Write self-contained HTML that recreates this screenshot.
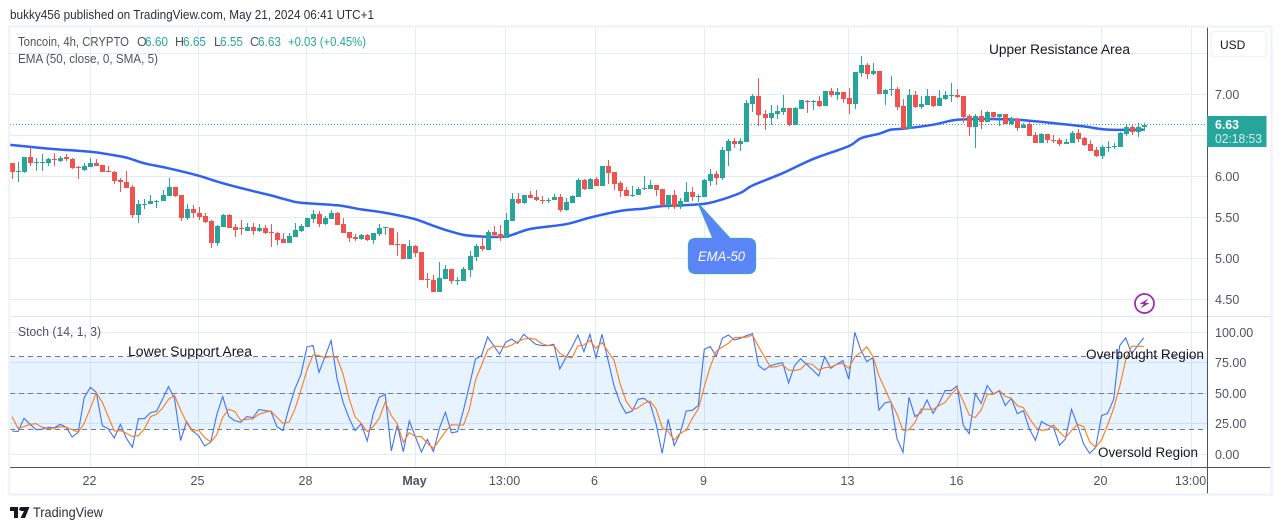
<!DOCTYPE html>
<html lang="en">
<head>
<meta charset="utf-8">
<title>Toncoin 4h chart</title>
<style>
html,body{margin:0;padding:0;background:#fff;width:1281px;height:530px;overflow:hidden}
svg{display:block;font-family:"Liberation Sans",sans-serif}
</style>
</head>
<body>
<svg id="chart" width="1281" height="530" viewBox="0 0 1281 530" xmlns="http://www.w3.org/2000/svg">
  <rect x="0" y="0" width="1281" height="530" fill="#ffffff"/>
  <g id="grid"></g>
  <g id="osc-band"></g>
  <g id="ema"></g>
  <g id="candles"></g>
  <g id="stoch"></g>
  <g id="axes"></g>

  <rect x="9" y="26.5" width="1262.5" height="468" fill="none" stroke="#f0f3fa" stroke-width="2.4"/>

  <text x="10" y="19" font-size="12.5" fill="#2a2e39" textLength="364" lengthAdjust="spacingAndGlyphs">bukky456 published on TradingView.com, May 21, 2024 06:41 UTC+1</text>

  <text x="18" y="46" font-size="12.5" fill="#50535e" textLength="111" lengthAdjust="spacingAndGlyphs">Toncoin, 4h, CRYPTO</text>
  <text x="137" y="46" font-size="12.5" fill="#50535e">O</text>
  <text x="145" y="46" font-size="12.5" fill="#26a69a" textLength="23" lengthAdjust="spacingAndGlyphs">6.60</text>
  <text x="175" y="46" font-size="12.5" fill="#50535e">H</text>
  <text x="183" y="46" font-size="12.5" fill="#26a69a" textLength="23" lengthAdjust="spacingAndGlyphs">6.65</text>
  <text x="214" y="46" font-size="12.5" fill="#50535e">L</text>
  <text x="220" y="46" font-size="12.5" fill="#26a69a" textLength="23" lengthAdjust="spacingAndGlyphs">6.55</text>
  <text x="250" y="46" font-size="12.5" fill="#50535e">C</text>
  <text x="258" y="46" font-size="12.5" fill="#26a69a" textLength="23" lengthAdjust="spacingAndGlyphs">6.63</text>
  <text x="288" y="46" font-size="12.5" fill="#26a69a" textLength="78" lengthAdjust="spacingAndGlyphs">+0.03 (+0.45%)</text>
  <text x="18" y="63" font-size="12.5" fill="#50535e" textLength="140" lengthAdjust="spacingAndGlyphs">EMA (50, close, 0, SMA, 5)</text>
  <text x="18" y="336" font-size="12.5" fill="#50535e" textLength="83" lengthAdjust="spacingAndGlyphs">Stoch (14, 1, 3)</text>

  <text x="989" y="54" font-size="13.5" fill="#131722" textLength="141" lengthAdjust="spacingAndGlyphs">Upper Resistance Area</text>
  <text x="128" y="356" font-size="13.5" fill="#131722" textLength="124" lengthAdjust="spacingAndGlyphs">Lower Support Area</text>
  <text x="1086" y="359" font-size="13.5" fill="#131722" textLength="118" lengthAdjust="spacingAndGlyphs">Overbought Region</text>
  <text x="1098" y="457" font-size="13.5" fill="#131722" textLength="100" lengthAdjust="spacingAndGlyphs">Oversold Region</text>

  <g>
    <path d="M698.5 204 L730 238.5 L748 238.5 Q755.5 238.5 755.5 246 L755.5 266 Q755.5 273.5 748 273.5 L696 273.5 Q688.5 273.5 688.5 266 L688.5 246 Q688.5 238.5 696 238.5 L713 238.5 Z" fill="#5b85f6" stroke="#3f9ad8" stroke-width="1.3" stroke-linejoin="round"/>
    <text x="698" y="261" font-size="14" font-style="italic" fill="#ffffff" textLength="47" lengthAdjust="spacingAndGlyphs">EMA-50</text>
  </g>

  <g>
    <rect x="1211.5" y="31.5" width="55" height="25" rx="3" fill="#ffffff" stroke="#f0f3fa" stroke-width="1.5"/>
    <text x="1220" y="49" font-size="12" fill="#131722">USD</text>
  </g>

  <g>
    <rect x="1207" y="116" width="59.5" height="31" fill="#26a69a"/>
    <text x="1215" y="129" font-size="12.5" font-weight="bold" fill="#ffffff" textLength="24" lengthAdjust="spacingAndGlyphs">6.63</text>
    <text x="1215" y="143" font-size="12.5" fill="#d4eeeb" textLength="47" lengthAdjust="spacingAndGlyphs">02:18:53</text>
  </g>

  <g>
    <circle cx="1144.5" cy="303.5" r="9.5" fill="#ffffff" stroke="#9c27b0" stroke-width="1.7"/>
    <path d="M1148.5 298.5 L1139.5 304 L1143.8 304 L1140.5 308.5 L1149.5 303 L1145.2 303 Z" fill="#9c27b0"/>
  </g>

  <g>
    <path d="M10 507 H18 V518 H14 V511 H10 Z M21 507 H29.5 L25 518 H20.5 L24 511 H21 Z" fill="#131722"/>
    <circle cx="21" cy="509" r="1.8" fill="#131722"/>
    <text x="33" y="517" font-size="13.5" fill="#2a2e39" textLength="70" lengthAdjust="spacingAndGlyphs">TradingView</text>
  </g>
</svg>

<script>
// OHLC values, one per 4h candle
const opens = [
6.17,6.06,6.06,6.24,6.17,6.17,6.16,6.21,6.19,6.24,6.21,6.11,6.08,6.12,6.16,6.14,6.07,6.06,5.96,5.93,
5.87,5.53,5.66,5.67,5.69,5.70,5.76,5.87,5.78,5.50,5.61,5.56,5.52,5.46,5.19,5.39,5.53,5.39,5.37,5.34,
5.39,5.34,5.37,5.33,5.31,5.24,5.19,5.26,5.34,5.39,5.48,5.54,5.42,5.48,5.56,5.42,5.33,5.26,5.24,5.29,
5.23,5.30,5.37,5.37,5.18,5.18,5.00,5.15,5.08,4.75,
4.74,4.60,4.75,4.875,4.73,4.73,4.86,5.02,5.15,5.11,5.33,5.30,5.25,5.46,5.73,5.68,5.78,5.75,5.72,5.71,
5.71,5.75,5.59,5.68,5.75,5.96,5.85,5.97,5.885,6.13,6.05,5.92,5.84,5.77,5.77,5.85,5.85,5.90,5.85,5.64,
5.78,5.63,5.69,5.81,5.75,5.75,5.95,6.03,5.98,6.31,6.43,6.40,6.42,6.88,6.98,6.76,6.71,6.76,6.78,6.83,
6.63,6.82,6.92,6.91,6.92,6.86,7.04,6.99,7.03,6.95,6.88,
7.26,7.36,7.25,7.28,7.00,7.06,7.065,6.86,6.58,6.99,6.85,6.87,6.98,6.86,6.94,6.985,6.99,6.98,6.74,6.60,
6.74,6.66,6.785,6.72,6.76,6.64,6.70,6.59,6.64,6.505,6.41,6.52,6.45,6.445,6.395,6.41,6.53,6.47,6.395,6.32,
6.25,6.35,6.36,6.36,6.52,6.60,6.54,6.60];
const highs = [
6.17,6.18,6.24,6.36,6.23,6.27,6.23,6.29,6.25,6.27,6.22,6.13,6.16,6.23,6.21,6.14,6.13,6.07,5.98,6.07,
5.90,5.71,5.73,5.77,5.71,5.84,5.98,5.87,5.78,5.67,5.65,5.63,5.55,5.47,5.41,5.54,5.54,5.42,5.47,5.43,
5.43,5.42,5.41,5.42,5.33,5.31,5.31,5.43,5.42,5.50,5.59,5.58,5.52,5.59,5.57,5.50,5.33,5.30,5.30,5.30,
5.31,5.42,5.39,5.37,5.33,5.18,5.23,5.17,5.08,4.83,
4.80,4.96,4.92,4.875,4.78,4.90,5.09,5.18,5.26,5.35,5.40,5.41,5.56,5.80,5.80,5.78,5.82,5.84,5.76,5.74,
5.79,5.79,5.74,5.78,5.98,5.97,5.98,5.99,6.13,6.20,6.05,5.95,5.87,5.88,5.87,6.01,5.96,5.90,5.85,5.78,
5.84,5.74,5.93,5.87,5.79,5.97,6.09,6.07,6.36,6.46,6.47,6.47,6.93,7.00,7.20,6.81,6.87,6.87,6.99,6.83,
6.85,6.93,6.93,6.93,6.98,7.04,7.08,7.08,7.03,7.08,7.27,
7.47,7.38,7.38,7.28,7.06,7.22,7.09,6.94,7.065,7.04,6.98,7.065,6.98,7.05,7.04,7.14,7.065,6.98,6.76,6.76,
6.81,6.80,6.785,6.76,6.76,6.72,6.71,6.65,6.66,6.54,6.53,6.52,6.505,6.47,6.46,6.555,6.58,6.48,6.445,6.36,
6.385,6.43,6.41,6.54,6.63,6.63,6.65,6.65];
const lows = [
5.97,5.93,6.04,6.13,6.07,6.07,6.13,6.13,6.18,6.19,6.09,5.97,6.07,6.12,6.13,6.05,6.06,5.91,5.81,5.86,
5.50,5.44,5.61,5.67,5.62,5.70,5.76,5.75,5.46,5.47,5.50,5.47,5.44,5.13,5.15,5.39,5.37,5.26,5.29,5.34,
5.29,5.33,5.30,5.14,5.17,5.19,5.19,5.26,5.33,5.39,5.44,5.39,5.41,5.48,5.41,5.31,5.20,5.22,5.23,5.22,
5.18,5.28,5.29,5.17,5.03,5.00,5.00,5.02,4.745,4.64,
4.60,4.60,4.75,4.69,4.68,4.73,4.78,4.97,5.09,5.10,5.25,5.22,5.25,5.46,5.67,5.67,5.74,5.70,5.67,5.68,
5.71,5.57,5.58,5.68,5.75,5.84,5.85,5.885,5.885,5.91,5.84,5.75,5.76,5.75,5.77,5.84,5.85,5.76,5.64,5.60,
5.60,5.60,5.69,5.70,5.69,5.75,5.885,5.90,5.96,6.13,6.35,6.31,6.42,6.79,6.61,6.57,6.63,6.70,6.75,6.61,
6.63,6.82,6.77,6.81,6.85,6.86,6.97,6.93,6.89,6.76,6.82,
7.21,7.19,7.24,7.00,6.87,6.98,6.81,6.58,6.58,6.83,6.82,6.87,6.85,6.86,6.935,6.91,6.955,6.65,6.49,6.35,
6.58,6.66,6.69,6.615,6.64,6.63,6.55,6.59,6.49,6.41,6.41,6.41,6.41,6.37,6.395,6.41,6.42,6.37,6.31,6.24,
6.21,6.30,6.335,6.36,6.49,6.505,6.48,6.55];
const closes = [
6.06,6.07,6.24,6.16,6.18,6.18,6.21,6.20,6.23,6.21,6.10,6.10,6.13,6.16,6.13,6.06,6.06,5.95,5.93,5.86,
5.53,5.67,5.67,5.70,5.70,5.78,5.87,5.76,5.50,5.61,5.55,5.51,5.45,5.19,5.40,5.53,5.37,5.35,5.36,5.39,
5.34,5.37,5.31,5.32,5.23,5.19,5.28,5.35,5.40,5.49,5.54,5.42,5.50,5.56,5.41,5.31,5.25,5.24,5.29,5.23,
5.31,5.37,5.38,5.17,5.17,5.00,5.15,5.07,4.745,4.735,
4.60,4.77,4.875,4.73,4.74,4.875,5.03,5.15,5.12,5.33,5.29,5.25,5.47,5.73,5.68,5.78,5.74,5.71,5.71,5.72,
5.75,5.59,5.69,5.76,5.96,5.85,5.97,5.885,6.13,6.04,5.91,5.82,5.76,5.78,5.85,5.86,5.90,5.84,5.64,5.78,
5.63,5.70,5.81,5.75,5.76,5.96,6.03,5.98,6.32,6.43,6.40,6.43,6.89,6.98,6.75,6.71,6.77,6.80,6.83,6.63,
6.83,6.93,6.91,6.92,6.86,7.04,6.99,7.03,6.94,6.88,7.27,
7.36,7.25,7.28,7.00,7.05,7.07,6.85,6.58,6.99,6.85,6.88,6.98,6.86,6.955,6.99,6.99,6.97,6.72,6.60,6.74,
6.66,6.785,6.72,6.76,6.64,6.70,6.59,6.63,6.49,6.41,6.52,6.445,6.44,6.395,6.42,6.53,6.455,6.385,6.31,6.25,
6.36,6.36,6.37,6.53,6.60,6.54,6.60,6.63];

// EMA-50: bar numbers and the values read at those bars
const emaBars = [-0.3,6,13,16,19,22,26,31,34,38,43,46,48,54,58,61,64,67,70,72,75,78,82,86,92,96,101,105,108,114,117,121,123,128,133,139,141,144,146,148,153,157,162,167,173,178,182,188];
const emaValues = [6.385,6.34,6.30,6.27,6.23,6.16,6.10,6.01,5.94,5.86,5.77,5.71,5.68,5.65,5.60,5.57,5.53,5.48,5.40,5.35,5.29,5.27,5.27,5.36,5.42,5.50,5.58,5.61,5.64,5.66,5.70,5.80,5.89,6.04,6.21,6.37,6.465,6.52,6.57,6.58,6.63,6.69,6.70,6.69,6.65,6.61,6.57,6.57];

// Stochastic %K and %D, one value per candle
const stochK = [
19.1,18.6,29.5,24.6,20.2,20.5,22.1,21.6,24.6,22.1,14.2,18,46.4,54.9,50.8,23.5,20.8,13.4,24.6,13.1,
5.7,29.2,29.2,34.2,35.2,45.1,55.5,45.9,11.2,26.8,19.1,15.3,6.8,9.8,32.2,47.3,31.1,27.6,26.2,30.9,
30,36.6,35.8,35.2,22.7,19.4,37.7,53.6,65.6,88,89.3,67.2,80,93.4,61.7,42.6,29.5,19.4,25.1,10.9,
33.1,46.7,49.2,2.7,24,2.2,27.3,14.5,1.9,12.3,
2.2,21.3,34.4,17.5,18.6,36.3,56.8,78.1,80.9,96.2,89.1,82,91.8,94.5,91,98.4,94.3,90.2,89.1,89.1,
90.2,69.9,79.2,87.7,97.8,84.2,98.4,79.2,98.4,77.3,56.3,42.3,33.6,35.5,45.1,45.9,41.8,24.9,0.8,28.7,
7.1,17.2,35.5,36.1,39.9,86.1,88.3,80.3,95.1,97.8,93.7,95.1,97.3,98.9,72.7,69.1,72.7,74,75.1,58.5,
72.7,78.4,73.8,69.1,64.2,80,70.5,73.8,76.8,61.5,100,
85.5,76,79.2,36.3,42.1,43.2,13.1,1.6,46.7,30.9,34.2,44.5,33.6,41.8,52.2,52.2,56,24,16.9,49.7,
41.8,56.3,49.5,51.9,39.9,45.9,33.3,35.8,20.8,11.5,26.8,24,22.1,7.4,12.6,36.9,24,8.5,0.8,5.5,
31.7,33.6,45.1,89.1,95.4,82.5,89.1,95.6];
const stochD = [
30.9,21.3,22.7,24.6,25.1,22.1,21.3,21.3,22.7,22.1,20.2,18,25.4,37.7,50.5,42.6,30.9,19.1,19.4,17.2,
14.5,15.3,20.8,30.9,32.8,37.7,45.1,48.4,36.3,26,18.6,19.9,13.7,10.1,15.8,30.3,36.9,35.2,27.9,28.7,
29,32.8,34.4,35.5,30.3,25.4,26.2,36.9,52.7,69.1,81.4,80.9,79.2,80.3,79.2,65.6,45.9,30.6,25.4,18.6,
22.7,29.5,42.6,31.7,24.9,9.8,17.8,14.5,14.5,9,
4.9,11.7,18.6,24.3,24,24,37.2,60.9,73.2,85.5,88.5,88.5,87.7,89.6,92.3,94.5,95.1,94.3,90.7,89.1,
89.3,82.8,80,79,88.8,89.6,93.4,86.9,91.8,84.2,77.3,58.2,43.7,36.6,38,41.8,43.7,37.2,21.9,18.6,
11.7,17.2,19.7,29.5,37.2,55.5,71.9,84.7,88,91,95.6,95.9,95.9,97.8,88.3,80,71.3,71.9,73.2,69.1,
68.6,69.7,74.6,73.5,69.1,71,71.3,73.8,74.6,70.5,80,
83.3,88,80.3,64.5,53.6,42.6,33.1,19.7,20.2,26.2,37.2,36.9,36.9,39.9,42.6,49.2,54.1,43.7,32.2,30.1,
36.3,49.2,49.2,52.5,47.5,45.9,39.9,38.3,29.5,22.4,19.7,20.2,24,18.3,13.7,19.4,24.6,22.7,10.4,5.7,
11.7,24,37.7,55.5,77.3,88.5,88.5,88.5];

// Axis ticks
const priceTicks = [7.5,7,6.5,6,5.5,5,4.5];
const priceLabelled = ["","7.00","","6.00","5.50","5.00","4.50"];
const stochTicks = [100,75,50,25,0];
const stochLabels = ["100.00","75.00","50.00","25.00","0.00"];
const stochLevels = [80,50,20];
const timeBars = [13,31,49,67,82,97,115,139,157,181,196];
const timeLabels = ["22","25","28","May","13:00","6","9","13","16","20","13:00"];
const lastPrice = 6.63;

// Axis functions
function xAt(bar){ return 12 + 6.02 * bar; }
function yPrice(p){ return 94.3 + (7 - p) * 82.2; }
function yStoch(v){ return 454.3 - v * 1.22; }

const SVGNS = "http://www.w3.org/2000/svg";
function mk(tag, parent){
  const el = document.createElementNS(SVGNS, tag);
  parent.appendChild(el);
  return el;
}
function crisp(v){ return Math.round(v - 0.5) + 0.5; }

const PLOT_L = 10, PLOT_R = 1207, PLOT_T = 27, PRICE_B = 316, OSC_B = 467;
const gridColor = "#e3ebf3";
const gridG = document.getElementById("grid");
const axesG = document.getElementById("axes");

// vertical grid + time labels
timeBars.forEach(function(b, i){
  const x = crisp(xAt(b));
  const line = mk("line", gridG);
  
  
  line.setAttribute("x1", x); line.setAttribute("x2", x);
  line.setAttribute("y1", PLOT_T); line.setAttribute("y2", OSC_B);
  line.setAttribute("stroke", gridColor);
  const t = mk("text", axesG);
  
  
  t.setAttribute("x", x - 1); t.setAttribute("y", 485);
  t.setAttribute("text-anchor", "middle");
  t.setAttribute("font-size", "12.5");
  t.setAttribute("fill", "#50535e");
  if (timeLabels[i] === "May") t.setAttribute("font-weight", "bold");
  t.textContent = timeLabels[i];
});

// price grid + labels
priceTicks.forEach(function(p, i){
  const y = crisp(yPrice(p));
  const line = mk("line", gridG);
  
  
  line.setAttribute("x1", PLOT_L); line.setAttribute("x2", PLOT_R);
  line.setAttribute("y1", y); line.setAttribute("y2", y);
  line.setAttribute("stroke", gridColor);
  if (priceLabelled[i]) {
    const t = mk("text", axesG);
    
    
    t.setAttribute("x", 1215); t.setAttribute("y", y + 4.5);
    t.setAttribute("font-size", "12.5");
    t.setAttribute("fill", "#50535e");
    t.textContent = priceLabelled[i];
  }
});

// stoch band
const band = mk("rect", document.getElementById("osc-band"));


band.setAttribute("x", PLOT_L); band.setAttribute("width", PLOT_R - PLOT_L);
band.setAttribute("y", yStoch(stochLevels[0]));
band.setAttribute("height", yStoch(stochLevels[2]) - yStoch(stochLevels[0]));
band.setAttribute("fill", "#2196f3");
band.setAttribute("fill-opacity", "0.11");

// stoch grid + labels
stochTicks.forEach(function(v, i){
  const y = crisp(yStoch(v));
  const line = mk("line", gridG);
  
  
  line.setAttribute("x1", PLOT_L); line.setAttribute("x2", PLOT_R);
  line.setAttribute("y1", y); line.setAttribute("y2", y);
  line.setAttribute("stroke", gridColor);
  const t = mk("text", axesG);
  
  
  t.setAttribute("x", 1215); t.setAttribute("y", y + 4.5);
  t.setAttribute("font-size", "12.5");
  t.setAttribute("fill", "#50535e");
  t.textContent = stochLabels[i];
});

// stoch level lines
const oscBandG = document.getElementById("osc-band");
stochLevels.forEach(function(v){
  const y = crisp(yStoch(v));
  const line = mk("line", oscBandG);
  
  
  line.setAttribute("x1", PLOT_L); line.setAttribute("x2", PLOT_R);
  line.setAttribute("y1", y); line.setAttribute("y2", y);
  line.setAttribute("stroke", "#787b86");
  line.setAttribute("stroke-dasharray", "5 4");
});

// last price dotted line
const lastLine = mk("line", gridG);


lastLine.setAttribute("x1", PLOT_L); lastLine.setAttribute("x2", PLOT_R);
lastLine.setAttribute("y1", crisp(yPrice(lastPrice))); lastLine.setAttribute("y2", crisp(yPrice(lastPrice)));
lastLine.setAttribute("stroke", "#26a69a");
lastLine.setAttribute("stroke-dasharray", "1 2");

// EMA: smooth curve through the read values
function smoothPath(pts){
  let d = "M" + pts[0][0].toFixed(1) + " " + pts[0][1].toFixed(1);
  for (let i = 0; i < pts.length - 1; i++) {
    const p0 = pts[Math.max(0, i - 1)], p1 = pts[i], p2 = pts[i + 1], p3 = pts[Math.min(pts.length - 1, i + 2)];
    const c1x = p1[0] + (p2[0] - p0[0]) / 6, c1y = p1[1] + (p2[1] - p0[1]) / 6;
    const c2x = p2[0] - (p3[0] - p1[0]) / 6, c2y = p2[1] - (p3[1] - p1[1]) / 6;
    d += " C" + c1x.toFixed(1) + " " + c1y.toFixed(1) + " " + c2x.toFixed(1) + " " + c2y.toFixed(1) + " " + p2[0].toFixed(1) + " " + p2[1].toFixed(1);
  }
  return d;
}
const emaLine = mk("path", document.getElementById("ema"));


emaLine.setAttribute("d", smoothPath(emaBars.map(function(b, i){ return [xAt(b), yPrice(emaValues[i])]; })));
emaLine.setAttribute("fill", "none");
emaLine.setAttribute("stroke", "#2f62f3");
emaLine.setAttribute("stroke-width", "2.5");
emaLine.setAttribute("stroke-linejoin", "round");

// candles
const candlesG = document.getElementById("candles");
opens.forEach(function(o, i){
  const c = closes[i];
  const col = c >= o ? "#26a69a" : "#ef5350";
  const cx = Math.round(xAt(i));
  const wick = mk("line", candlesG);
  
  
  wick.setAttribute("x1", cx + 0.5); wick.setAttribute("x2", cx + 0.5);
  wick.setAttribute("y1", Math.round(yPrice(highs[i]))); wick.setAttribute("y2", Math.round(yPrice(lows[i])));
  wick.setAttribute("stroke", col);
  const top = Math.round(yPrice(Math.max(o, c)));
  const bot = Math.round(yPrice(Math.min(o, c)));
  const body = mk("rect", candlesG);
  
  
  body.setAttribute("x", cx - 2); body.setAttribute("width", 5);
  body.setAttribute("y", top); body.setAttribute("height", Math.max(1, bot - top));
  body.setAttribute("fill", col);
  body.setAttribute("shape-rendering", "crispEdges");
});

// stoch lines
const stochG = document.getElementById("stoch");
const kLine = mk("polyline", stochG);


kLine.setAttribute("points", stochK.map(function(v, i){ return xAt(i).toFixed(1) + "," + yStoch(v).toFixed(1); }).join(" "));
kLine.setAttribute("fill", "none");
kLine.setAttribute("stroke", "#3f73f5");
kLine.setAttribute("stroke-width", "1.1");
const dLine = mk("polyline", stochG);


dLine.setAttribute("points", stochD.map(function(v, i){ return xAt(i).toFixed(1) + "," + yStoch(v).toFixed(1); }).join(" "));
dLine.setAttribute("fill", "none");
dLine.setAttribute("stroke", "#ff7a1a");
dLine.setAttribute("stroke-width", "1.1");

// axis lines and pane separator
const sep = mk("line", axesG);


sep.setAttribute("x1", PLOT_L); sep.setAttribute("x2", 1271);
sep.setAttribute("y1", PRICE_B + 0.5); sep.setAttribute("y2", PRICE_B + 0.5);
sep.setAttribute("stroke", "#e0e3eb");
const timeAxis = mk("line", axesG);


timeAxis.setAttribute("x1", PLOT_L); timeAxis.setAttribute("x2", 1271);
timeAxis.setAttribute("y1", OSC_B + 0.5); timeAxis.setAttribute("y2", OSC_B + 0.5);
timeAxis.setAttribute("stroke", "#50535e");
const priceAxis = mk("line", axesG);


priceAxis.setAttribute("x1", PLOT_R + 0.5); priceAxis.setAttribute("x2", PLOT_R + 0.5);
priceAxis.setAttribute("y1", PLOT_T); priceAxis.setAttribute("y2", 494);
priceAxis.setAttribute("stroke", "#50535e");
</script>
</body>
</html>
